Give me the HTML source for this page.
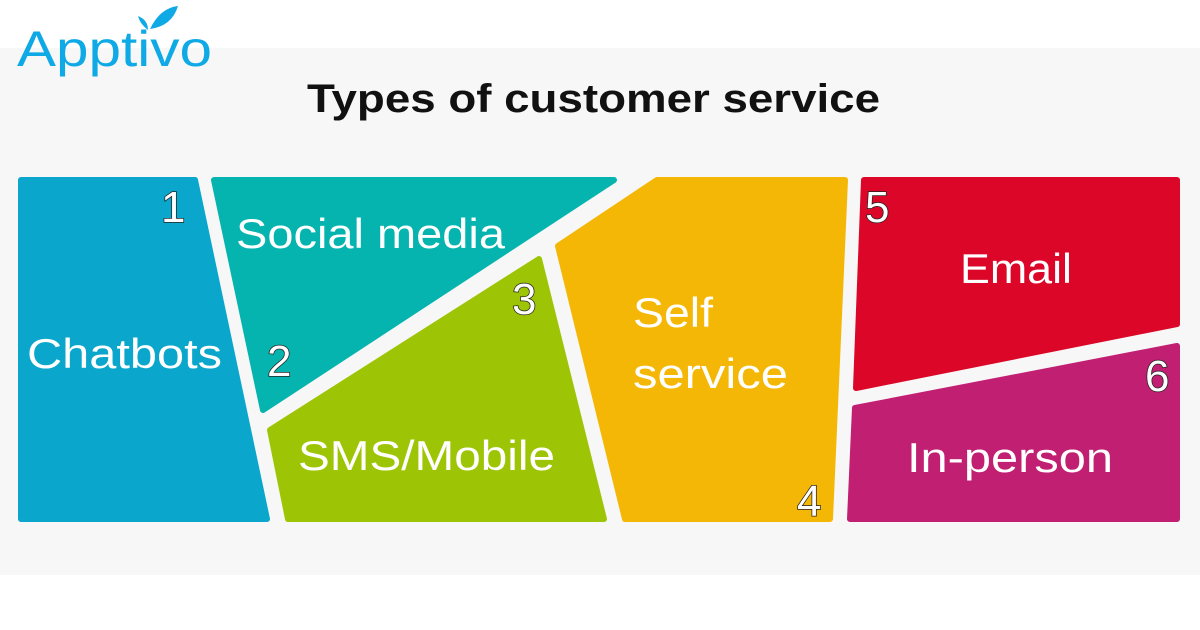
<!DOCTYPE html>
<html><head><meta charset="utf-8"><style>
body{margin:0;width:1200px;height:630px;overflow:hidden;background:#fff;font-family:"Liberation Sans",sans-serif}
</style></head><body>
<svg width="1200" height="630" xmlns="http://www.w3.org/2000/svg" style="position:absolute;left:0;top:0">
<rect x="0" y="48" width="1200" height="527" fill="#f7f7f7"/>
<text x="17" y="66" font-size="50" fill="#0fa9e6" textLength="195" lengthAdjust="spacingAndGlyphs">Apptivo</text>
<path d="M150 29 Q160 8 178 6 Q172 26 150 29Z" fill="#0fa9e6"/>
<path d="M148 30 Q140 24 138 16 Q148 20 148 30Z" fill="#0fa9e6"/>
<text x="307" y="112" font-size="40" font-weight="bold" fill="#111" textLength="573" lengthAdjust="spacingAndGlyphs">Types of customer service</text>
<g stroke-linejoin="round" stroke-width="6">
<polygon points="21,180 195,180 267,519 21,519" fill="#0aa6cc" stroke="#0aa6cc"/>
<polygon points="214,180 614,180 263,410" fill="#05b4ae" stroke="#05b4ae"/>
<polygon points="270,430 539,259 604,519 288,519" fill="#9ec505" stroke="#9ec505"/>
<polygon points="558,246 657,180 845,180 830,519 625,519" fill="#f5b705" stroke="#f5b705"/>
<polygon points="864,180 1177,180 1177,324 856,388" fill="#dc0628" stroke="#dc0628"/>
<polygon points="855,408 1177,346 1177,519 850,519" fill="#c01f72" stroke="#c01f72"/>
</g>
<g fill="#fff" font-size="42" lengthAdjust="spacingAndGlyphs">
<text x="27" y="368" textLength="195" lengthAdjust="spacingAndGlyphs">Chatbots</text>
<text x="236" y="248" textLength="269" lengthAdjust="spacingAndGlyphs">Social media</text>
<text x="298" y="470" textLength="257" lengthAdjust="spacingAndGlyphs">SMS/Mobile</text>
<text x="633" y="327" textLength="80" lengthAdjust="spacingAndGlyphs">Self</text>
<text x="633" y="388" textLength="155" lengthAdjust="spacingAndGlyphs">service</text>
<text x="960" y="283" textLength="112" lengthAdjust="spacingAndGlyphs">Email</text>
<text x="907" y="472" textLength="206" lengthAdjust="spacingAndGlyphs">In-person</text>
</g>
<g fill="#fff" stroke="#222" stroke-width="1.5" font-size="44" paint-order="stroke">
<text x="161" y="222">1</text>
<text x="267" y="376">2</text>
<text x="512" y="314">3</text>
<text x="797" y="516">4</text>
<text x="865" y="222">5</text>
<text x="1145" y="391">6</text>
</g>
</svg>
</body></html>
